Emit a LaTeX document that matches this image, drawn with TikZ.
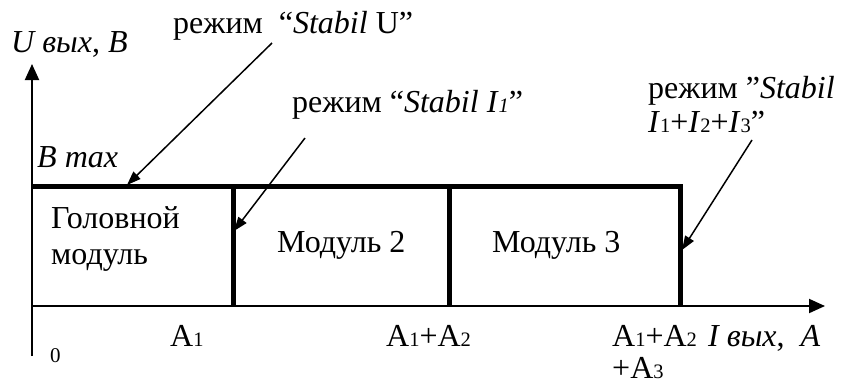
\documentclass[tikz,border=0pt]{standalone}
\usepackage{fontspec}
\setmainfont{Liberation Serif}
\usetikzlibrary{arrows.meta}
\newcommand\subd[1]{{\fontsize{20.5}{20.5}\selectfont #1}}
\begin{document}
\begin{tikzpicture}[x=1pt,y=-1pt,
  lbl/.style={anchor=base west, inner sep=0pt, font=\fontsize{32}{36}\selectfont},
  small/.style={anchor=base west, inner sep=0pt, font=\fontsize{21}{24}\selectfont},
  axisline/.style={line width=2pt, -{Triangle[length=16pt,width=14pt]}},
  boldline/.style={line width=5pt},
  pointer/.style={line width=1.5pt, -{Triangle[length=14pt,width=10pt]}}]
\useasboundingbox (0,0) rectangle (842,384);
% axes
\coordinate (ybot) at (32,356);
\coordinate (ytop) at (32,64);
\coordinate (xorig) at (31,306);
\coordinate (xend) at (825,306);
\draw[axisline] (ybot) -- (ytop);
\draw[axisline] (xorig) -- (xend);
% bold characteristic
\coordinate (tl) at (32,186);
\coordinate (tr) at (680,186);
\coordinate (b1t) at (233,186);
\coordinate (b1b) at (233,306);
\coordinate (b2t) at (449,186);
\coordinate (b2b) at (449,306);
\coordinate (b3b) at (680,306);
\draw[boldline, line join=miter] (tl) -- (tr) -- (b3b);
\draw[boldline] (b1t) -- (b1b);
\draw[boldline] (b2t) -- (b2b);
% texts
\node[lbl] (ylab) at (11,52) {\textit{U вых}, \textit{B}};
\node[lbl] (modeU) at (173,33) {режим \ “\textit{Stabil} U”};
\node[lbl] (modeI1) at (292,112) {режим “\textit{Stabil I}\subd{\textit{1}}”};
\node[lbl] (modeI3a) at (648,98) {режим ”\textit{Stabil}};
\node[lbl] (modeI3b) at (648,132) {\textit{I}\subd{1}+\textit{I}\subd{2}+\textit{I}\subd{3}”};
\node[lbl] (bmax) at (37,167) {\textit{B max}};
\node[lbl] (head1) at (51,228) {Головной};
\node[lbl] (head2) at (51,264) {модуль};
\node[lbl] (mod2) at (277,252) {Модуль 2};
\node[lbl] (mod3) at (492,252) {Модуль 3};
\node[lbl] (a1) at (170,346) {А\subd{1}};
\node[lbl] (a12) at (386,346) {А\subd{1}+А\subd{2}};
\node[lbl] (a123a) at (612,346) {А\subd{1}+А\subd{2}};
\node[lbl] (a123b) at (612,378) {+А\subd{3}};
\node[lbl] (xlab) at (708,346) {\textit{I вых},\hspace{0.5em}\textit{A}};
\node[small] (zero) at (50,362) {0};
% pointers
\coordinate (pU) at (272,43);
\coordinate (pUe) at (127,185);
\coordinate (pI1) at (305,138);
\coordinate (pI1e) at (234,231);
\coordinate (pI3) at (752,140);
\coordinate (pI3e) at (682,250);
\draw[pointer] (pU) -- (pUe);
\draw[pointer] (pI1) -- (pI1e);
\draw[pointer] (pI3) -- (pI3e);
\end{tikzpicture}
\end{document}
